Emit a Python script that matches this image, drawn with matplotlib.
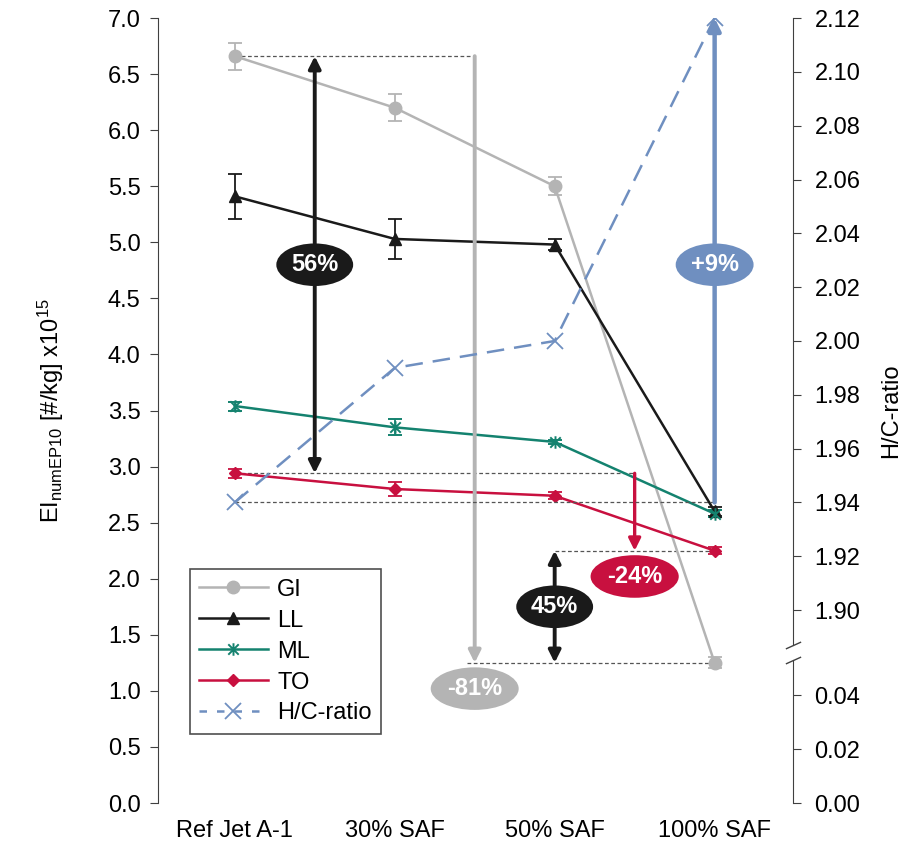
import numpy as np
import matplotlib
matplotlib.use("Agg")
import matplotlib.pyplot as plt
from matplotlib.path import Path
from matplotlib.lines import Line2D
import matplotlib.transforms as mtransforms

plt.rcParams["font.family"] = ["Liberation Sans", "DejaVu Sans"]
plt.rcParams["mathtext.fontset"] = "custom"
plt.rcParams["mathtext.rm"] = "Liberation Sans"
plt.rcParams["mathtext.it"] = "Liberation Sans"

# --- data ---
categories = ["Ref Jet A-1", "30% SAF", "50% SAF", "100% SAF"]
gi = [6.66, 6.20, 5.50, 1.25]
gi_err = [0.12, 0.12, 0.08, 0.05]
ll = [5.41, 5.03, 4.98, 2.60]
ll_err = [0.20, 0.18, 0.05, 0.04]
ml = [3.54, 3.35, 3.22, 2.58]
ml_err = [0.04, 0.07, 0.02, 0.03]
to = [2.94, 2.80, 2.74, 2.25]
to_err = [0.04, 0.06, 0.03, 0.03]
hc = [1.94, 1.99, 2.00, 2.12]

left_ticks = np.arange(0, 7.01, 0.5)
hc_ticks_low = [0.00, 0.02, 0.04]
hc_ticks_high = [1.90, 1.92, 1.94, 1.96, 1.98, 2.00, 2.02, 2.04, 2.06, 2.08, 2.10, 2.12]

C_GI = "#b4b4b4"
C_LL = "#1a1a1a"
C_ML = "#14826f"
C_TO = "#c8103f"
C_HC = "#6f8fc0"
C_AX = "#404040"
FS = 17

# broken right axis: piecewise linear map H/C -> left-axis units
BRK_LO, BRK_HI = 0.053, 1.887
_hc_pts = [-1.0, 0.0, BRK_LO, BRK_HI, 3.0]
_y_pts = [-24.0, 0.0, BRK_LO * 24.0, 7.0 - (2.12 - BRK_HI) * 24.0, 7.0 + 0.88 * 24.0]


def hc_forward(v):
    return np.interp(v, _hc_pts, _y_pts)


def hc_inverse(y):
    return np.interp(y, _y_pts, _hc_pts)


# asterisk marker (x + vertical stroke)
_ast = Path(
    [(-1, -1), (1, 1), (-1, 1), (1, -1), (0, -1.2), (0, 1.2)],
    [Path.MOVETO, Path.LINETO, Path.MOVETO, Path.LINETO, Path.MOVETO, Path.LINETO],
)

fig = plt.figure(figsize=(9.09, 8.42), dpi=100)
ax = fig.add_axes([0.1738, 0.0463, 0.6986, 0.9323])
ax2 = ax.twinx()
ax2.set_yscale("function", functions=(hc_forward, hc_inverse))

x = np.arange(len(categories))

ax.set_xlim(-0.48, 3.49)
ax.set_ylim(0, 7)
ax2.set_ylim(0, 2.12)

# reference dotted lines
dot = dict(color="#555555", lw=0.9, ls=(0, (3, 2)), zorder=1)
ax.plot([x[0], 1.5], [gi[0], gi[0]], **dot)
ax.plot([x[0], 2.5], [to[0], to[0]], **dot)
ax.plot([x[2], x[3]], [to[3], to[3]], **dot)
ax.plot([1.45, x[3]], [gi[3], gi[3]], **dot)
ax2.plot([x[0], x[3]], [hc[0], hc[0]], **dot)

# series
eb = dict(capsize=5, elinewidth=1.3, capthick=1.3, lw=1.8, zorder=4)
ax.errorbar(x, gi, yerr=gi_err, color=C_GI, marker="o", ms=9, label="GI", **eb)
ax.errorbar(x, ll, yerr=ll_err, color=C_LL, marker="^", ms=8, label="LL", **eb)
ax.errorbar(x, ml, yerr=ml_err, color=C_ML, marker=_ast, ms=9, mew=1.4,
            mfc="none", label="ML", **eb)
ax.errorbar(x, to, yerr=to_err, color=C_TO, marker="D", ms=6, label="TO", **eb)
ax2.plot(x, hc, color=C_HC, ls=(0, (7, 4)), lw=1.8, marker="x", ms=11, mew=1.3,
         zorder=4)


def arrow(a, xv, y0, y1, color, lw, style):
    a.annotate("", xy=(xv, y1), xytext=(xv, y0),
               arrowprops=dict(arrowstyle=style, color=color, lw=lw,
                               shrinkA=0, shrinkB=0,
                               mutation_scale=18),
               zorder=5)


def badge(xv, yv, text, color):
    # drawn on the top (twin) axes so the arrows stay underneath
    ax2.text(xv, yv, text, ha="center", va="center", color="white",
             fontsize=FS, fontweight="bold", zorder=7, transform=ax.transData,
             bbox=dict(boxstyle="ellipse,pad=0.15", fc=color, ec="none"))


arrow(ax, 0.5, to[0], gi[0], C_LL, 2.8, "<|-|>")
arrow(ax, 1.5, gi[0], gi[3], C_GI, 2.8, "-|>")
arrow(ax, 2.0, gi[3], to[3], C_LL, 2.8, "<|-|>")
arrow(ax, 2.5, to[0], to[3], C_TO, 2.4, "-|>")
arrow(ax2, 3.0, hc[0], hc[3], C_HC, 3.2, "-|>")

badge(0.5, 4.8, "56%", C_LL)
badge(1.5, 1.02, "-81%", C_GI)
badge(2.0, 1.75, "45%", C_LL)
badge(2.5, 2.02, "-24%", C_TO)
badge(3.0, 4.8, "+9%", C_HC)

# axes styling
for s in ["top", "bottom", "right"]:
    ax.spines[s].set_visible(False)
for s in ["top", "bottom", "left"]:
    ax2.spines[s].set_visible(False)
ax.spines["left"].set_color(C_AX)
ax.set_yticks(left_ticks)
ax.set_yticklabels([f"{v:.1f}" for v in left_ticks])
ax.tick_params(axis="y", direction="out", length=5.5, color=C_AX, labelsize=FS, pad=7)
ax.set_xticks(x)
ax.set_xticklabels(categories)
ax.tick_params(axis="x", length=0, labelsize=FS, pad=12)

ax2.spines["right"].set_color(C_AX)
ax2.spines["right"].set_bounds(BRK_HI, 2.12)
ax2.set_yticks(hc_ticks_low + hc_ticks_high)
ax2.set_yticklabels([f"{v:.2f}" for v in hc_ticks_low + hc_ticks_high])
ax2.yaxis.set_minor_locator(matplotlib.ticker.NullLocator())
ax2.tick_params(axis="y", direction="out", length=5.5, color=C_AX, labelsize=FS, pad=10)
spine_tr = mtransforms.blended_transform_factory(ax2.transAxes, ax2.transData)
ax2.plot([1, 1], [0, BRK_LO], color=C_AX, lw=0.8, clip_on=False, transform=spine_tr)
ax2.plot([1, 1], [BRK_LO, BRK_HI], marker=[(-1, -0.45), (1, 0.45)], markersize=11,
         linestyle="none", color=C_AX, mec=C_AX, mew=1.0, clip_on=False,
         transform=spine_tr)

ax.set_ylabel(r"EI$_{\mathrm{numEP10}}$ [#/kg] x10$^{15}$", fontsize=FS, labelpad=30)
ax2.set_ylabel("H/C-ratio", fontsize=FS, labelpad=14)

handles = [
    Line2D([], [], color=C_GI, marker="o", ms=9, lw=1.8),
    Line2D([], [], color=C_LL, marker="^", ms=8, lw=1.8),
    Line2D([], [], color=C_ML, marker=_ast, ms=9, mew=1.4, mfc="none", lw=1.8),
    Line2D([], [], color=C_TO, marker="D", ms=6, lw=1.8),
    Line2D([], [], color=C_HC, marker="x", ms=11, mew=1.3, lw=1.8, ls=(0, (3, 4))),
]
leg = ax.legend(handles, ["GI", "LL", "ML", "TO", "H/C-ratio"], loc="lower left",
                bbox_to_anchor=(0.05, 0.088), borderaxespad=0, fontsize=FS,
                frameon=True, fancybox=False, edgecolor="#222222",
                handlelength=2.9, handletextpad=0.4, labelspacing=0.38,
                borderpad=0.4)
leg.get_frame().set_linewidth(1.2)
leg.set_zorder(8)

fig.savefig("out.png", dpi=100)
